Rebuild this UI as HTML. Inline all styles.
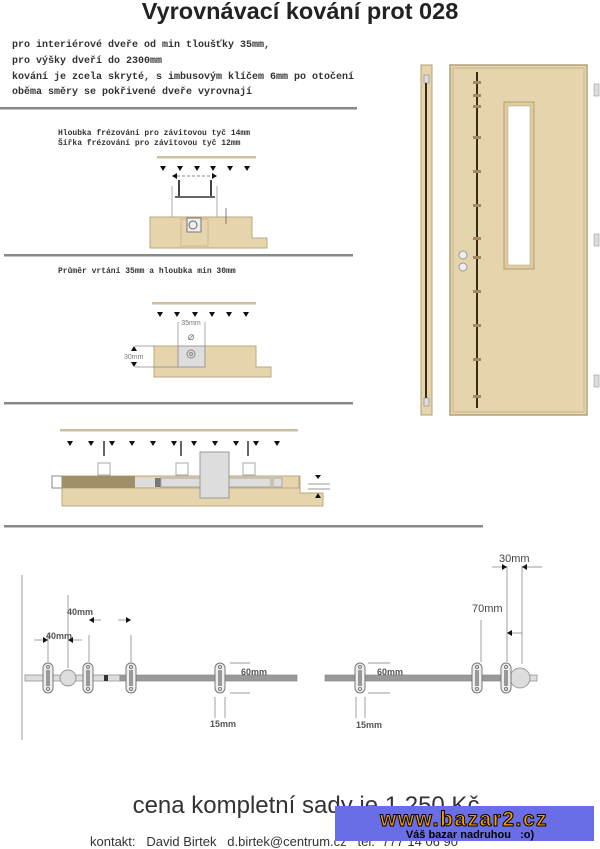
<!DOCTYPE html>
<html><head><meta charset="utf-8"><style>
html,body{margin:0;padding:0;background:#fff;}
svg{display:block;}
.m{font-family:"Liberation Mono",monospace;font-weight:bold;fill:#333;}
.s{font-family:"Liberation Sans",sans-serif;fill:#333;}
</style></head><body>
<svg width="600" height="849" viewBox="0 0 600 849" xmlns="http://www.w3.org/2000/svg">
<defs>
<path id="ar" d="M-3,0 L3,0 L0,5 Z" fill="#111"/>
<g id="pl"><rect x="-5" y="-15" width="10" height="30" rx="5" fill="#eee" stroke="#777" stroke-width="1"/><rect x="-2" y="-8" width="4" height="16" fill="#999"/><circle cx="0" cy="-11" r="1.5" fill="none" stroke="#777"/><circle cx="0" cy="11" r="1.5" fill="none" stroke="#777"/></g>
</defs>
<text x="300" y="19" text-anchor="middle" class="s" style="font-size:23.5px;font-weight:bold;fill:#222">Vyrovnávací kování prot 028</text>
<text class="m" style="font-size:10px"><tspan x="12" y="47">pro interiérové dveře od min tloušťky 35mm,</tspan><tspan x="12" y="63">pro výšky dveří do 2300mm</tspan><tspan x="12" y="79">kování je zcela skryté, s imbusovým klíčem 6mm po otočení</tspan><tspan x="12" y="94">oběma směry se pokřivené dveře vyrovnají</tspan></text>
<rect x="0" y="107" width="357" height="2.5" fill="#888"/>

<!-- section 2 -->
<text class="m" style="font-size:8px"><tspan x="58" y="135">Hloubka frézování pro závitovou tyč 14mm</tspan><tspan x="58" y="145">Šířka frézování pro závitovou tyč 12mm</tspan></text>
<rect x="157" y="156" width="99" height="2.5" fill="#c8c0a0"/>
<g><use href="#ar" x="163" y="166"/><use href="#ar" x="180" y="166"/><use href="#ar" x="197" y="166"/><use href="#ar" x="213" y="166"/><use href="#ar" x="230" y="166"/><use href="#ar" x="247" y="166"/></g>
<line x1="172" y1="176" x2="217" y2="176" stroke="#888" stroke-dasharray="3,2"/>
<path d="M172,176 l5,-3 v6z M217,176 l-5,-3 v6z" fill="#111"/>
<line x1="179" y1="180" x2="179" y2="197" stroke="#444" stroke-width="2"/><line x1="211" y1="180" x2="211" y2="197" stroke="#444" stroke-width="2"/>
<rect x="175" y="196" width="40" height="2" fill="#666"/>
<line x1="172" y1="186" x2="172" y2="217" stroke="#888" stroke-width="0.7"/><line x1="217" y1="186" x2="217" y2="217" stroke="#888" stroke-width="0.7"/>
<path d="M150,217 H252 V238 H267 V248 H150 Z" fill="#e6d5ac" stroke="#bba880"/>
<rect x="181" y="219" width="27" height="27" fill="none" stroke="#c9b88f"/>
<rect x="187" y="218" width="14" height="14" fill="#eee" stroke="#777"/><circle cx="193" cy="225" r="4" fill="none" stroke="#666"/>
<line x1="226" y1="208" x2="226" y2="224" stroke="#555" stroke-width="0.7"/>
<rect x="4" y="254" width="349" height="2.5" fill="#888"/>

<!-- section 3 -->
<text x="58" y="273" class="m" style="font-size:8px">Průměr vrtání 35mm a hloubka min 30mm</text>
<rect x="152" y="302" width="104" height="2.5" fill="#c8c0a0"/>
<g><use href="#ar" x="160" y="312"/><use href="#ar" x="177" y="312"/><use href="#ar" x="195" y="312"/><use href="#ar" x="212" y="312"/><use href="#ar" x="229" y="312"/><use href="#ar" x="246" y="312"/></g>
<path d="M154,346 H256 V367 H271 V377 H154 Z" fill="#e6d5ac" stroke="#bba880"/>
<rect x="178" y="346" width="27" height="21" fill="#ddd" stroke="#999"/>
<circle cx="191" cy="354" r="4" fill="none" stroke="#888"/><circle cx="191" cy="354" r="1.5" fill="none" stroke="#888"/>
<line x1="178" y1="322" x2="178" y2="346" stroke="#888" stroke-width="0.7"/><line x1="205" y1="322" x2="205" y2="346" stroke="#888" stroke-width="0.7"/>
<text x="191" y="325" text-anchor="middle" class="s" style="font-size:7px;fill:#777">35mm</text>
<text x="191" y="340" text-anchor="middle" class="s" style="font-size:11px;fill:#777">⌀</text>
<line x1="135" y1="346" x2="155" y2="346" stroke="#888" stroke-width="0.7"/><line x1="135" y1="367" x2="178" y2="367" stroke="#888" stroke-width="0.7"/>
<path d="M134,346 l-3,5 h6z M134,367 l-3,-5 h6z" fill="#111"/>
<text x="124" y="359" class="s" style="font-size:7px;fill:#777">30mm</text>
<rect x="4" y="402" width="349" height="2.5" fill="#888"/>

<!-- section 4 -->
<rect x="60" y="429" width="238" height="2.5" fill="#c8c0a0"/>
<g><use href="#ar" x="70" y="441"/><use href="#ar" x="91" y="441"/><use href="#ar" x="112" y="441"/><use href="#ar" x="132" y="441"/><use href="#ar" x="153" y="441"/><use href="#ar" x="174" y="441"/><use href="#ar" x="194" y="441"/><use href="#ar" x="215" y="441"/><use href="#ar" x="236" y="441"/><use href="#ar" x="256" y="441"/><use href="#ar" x="277" y="441"/></g>
<line x1="104" y1="441" x2="104" y2="456" stroke="#333" stroke-width="1.5"/><line x1="181" y1="441" x2="181" y2="456" stroke="#333" stroke-width="1.5"/><line x1="248" y1="441" x2="248" y2="456" stroke="#333" stroke-width="1.5"/>
<path d="M62,476 H300 V493 H323 V506 H62 Z" fill="#e6d5ac" stroke="#bba880"/>
<rect x="52" y="476" width="247" height="12" fill="#e6d5ac" stroke="#bba880"/>
<rect x="52" y="476" width="10" height="12" fill="#fff" stroke="#888"/>
<rect x="62" y="476" width="73" height="12" fill="#a0906a"/>
<rect x="135" y="478" width="20" height="9" fill="#ddd"/><rect x="155" y="478" width="6" height="9" fill="#777"/>
<rect x="161" y="478" width="110" height="9" fill="#ddd" stroke="#aaa"/>
<rect x="273" y="478" width="9" height="9" fill="#ddd" stroke="#aaa"/>
<rect x="200" y="452" width="29" height="46" fill="#ddd" stroke="#999"/>
<rect x="98" y="463" width="12" height="12" fill="#fff" stroke="#aaa"/><rect x="176" y="463" width="12" height="12" fill="#fff" stroke="#aaa"/><rect x="243" y="463" width="12" height="12" fill="#fff" stroke="#aaa"/>
<line x1="308" y1="484" x2="330" y2="484" stroke="#777" stroke-width="0.7"/><line x1="308" y1="489" x2="330" y2="489" stroke="#777" stroke-width="0.7"/>
<path d="M318,479 l-3,-4 h6z M318,493 l-3,5 h6z" fill="#111"/>
<rect x="4" y="525" width="479" height="2.5" fill="#888"/>

<!-- section 5 -->
<line x1="22" y1="575" x2="22" y2="740" stroke="#999"/>
<rect x="25" y="675" width="95" height="6" fill="#ddd" stroke="#888" stroke-width="0.7"/>
<rect x="120" y="675" width="177" height="6" fill="#999" stroke="#888" stroke-width="0.7"/>
<rect x="104" y="675" width="4" height="6" fill="#333"/>
<circle cx="68" cy="678" r="8" fill="#ddd" stroke="#999"/>
<use href="#pl" x="48" y="678"/><use href="#pl" x="88" y="678"/><use href="#pl" x="131" y="678"/><use href="#pl" x="220" y="678"/>
<rect x="325" y="675" width="175" height="6" fill="#999" stroke="#888" stroke-width="0.7"/>
<rect x="500" y="675" width="37" height="6" fill="#ddd" stroke="#888" stroke-width="0.7"/>
<circle cx="520" cy="678" r="10" fill="#ddd" stroke="#999"/>
<use href="#pl" x="360" y="678"/><use href="#pl" x="477" y="678"/><use href="#pl" x="506" y="678"/>
<g stroke="#777" stroke-width="0.7">
<line x1="48" y1="633" x2="48" y2="662"/><line x1="68" y1="595" x2="68" y2="668"/><line x1="89" y1="635" x2="89" y2="662"/><line x1="131" y1="635" x2="131" y2="662"/>
<line x1="34" y1="640" x2="48" y2="640"/><line x1="68" y1="640" x2="82" y2="640"/><line x1="89" y1="620" x2="101" y2="620"/><line x1="118" y1="620" x2="131" y2="620"/>
<line x1="230" y1="663" x2="250" y2="663"/><line x1="230" y1="693" x2="250" y2="693"/><line x1="215" y1="697" x2="215" y2="718"/><line x1="225" y1="697" x2="225" y2="718"/>
<line x1="368" y1="663" x2="390" y2="663"/><line x1="368" y1="693" x2="390" y2="693"/><line x1="356" y1="697" x2="356" y2="718"/><line x1="365" y1="697" x2="365" y2="718"/>
<line x1="481" y1="620" x2="481" y2="662"/><line x1="507" y1="566" x2="507" y2="662"/><line x1="522" y1="566" x2="522" y2="664"/>
<line x1="492" y1="567" x2="507" y2="567"/><line x1="522" y1="567" x2="542" y2="567"/><line x1="507" y1="633" x2="522" y2="633"/>
</g>
<path d="M48,640 l-5,-3 v6z M68,640 l5,-3 v6z M89,620 l5,-3 v6z M131,620 l-5,-3 v6z M507,567 l-5,-3 v6z M522,567 l5,-3 v6z M507,633 l5,-3 v6z" fill="#111"/>
<g class="s" style="font-size:9px;font-weight:bold;fill:#555">
<text x="67" y="615">40mm</text><text x="46" y="639">40mm</text><text x="241" y="675">60mm</text><text x="377" y="675">60mm</text><text x="210" y="727">15mm</text><text x="356" y="728">15mm</text>
</g>
<text x="499" y="562" class="s" style="font-size:11px;fill:#444">30mm</text>
<text x="472" y="612" class="s" style="font-size:11px;fill:#444">70mm</text>

<!-- door side -->
<rect x="421" y="65" width="11" height="350" fill="#e6d5ac" stroke="#b0a07a"/>
<line x1="426" y1="80" x2="426" y2="402" stroke="#3a2a1a" stroke-width="2"/>
<rect x="424" y="75" width="5" height="8" fill="#ddd" stroke="#777" stroke-width="0.5"/>
<rect x="424" y="398" width="5" height="8" fill="#ddd" stroke="#777" stroke-width="0.5"/>
<!-- door front -->
<rect x="450" y="65" width="137" height="350" fill="#e6d5ac" stroke="#b0a07a" stroke-width="1.5"/>
<rect x="453" y="68" width="131" height="344" fill="none" stroke="#c8b88e" stroke-width="1"/>
<rect x="504" y="102" width="30" height="167" fill="#e0cc9c" stroke="#b0a07a"/>
<rect x="508" y="106" width="22" height="159" fill="#fff" stroke="#b0a07a" stroke-width="0.5"/>
<line x1="477" y1="72" x2="477" y2="408" stroke="#3a2a1a" stroke-width="2"/>
<g fill="#a08860"><rect x="473" y="81" width="8" height="3"/><rect x="473" y="94" width="8" height="3"/><rect x="473" y="105" width="8" height="3"/><rect x="473" y="136" width="8" height="3"/><rect x="473" y="170" width="8" height="3"/><rect x="473" y="204" width="8" height="3"/><rect x="473" y="237" width="8" height="3"/><rect x="473" y="256" width="8" height="3"/><rect x="473" y="290" width="8" height="3"/><rect x="473" y="324" width="8" height="3"/><rect x="473" y="358" width="8" height="3"/><rect x="473" y="395" width="8" height="3"/></g>
<circle cx="463" cy="255" r="4" fill="#eee" stroke="#999"/><circle cx="463" cy="267" r="4" fill="#eee" stroke="#999"/>
<g fill="#ddd" stroke="#888" stroke-width="0.5"><rect x="594" y="84" width="5" height="12"/><rect x="594" y="234" width="5" height="12"/><rect x="594" y="375" width="5" height="12"/></g>

<!-- bottom -->
<text x="306" y="813" text-anchor="middle" class="s" style="font-size:24px">cena kompletní sady je 1 250 Kč</text>
<text x="90" y="846" class="s" style="font-size:13px;white-space:pre">kontakt:   David Birtek   d.birtek@centrum.cz   tel.  777 14 06 90</text>
<rect x="335" y="806" width="259" height="35" fill="#6a6ee6"/>
<text x="464" y="826" text-anchor="middle" style="font-family:'Liberation Sans',sans-serif;font-size:21px;font-weight:bold;letter-spacing:1.5px;fill:#f59a00;stroke:#000;stroke-width:1">www.bazar2.cz</text>
<text x="470" y="838" text-anchor="middle" style="font-family:'Liberation Sans',sans-serif;font-size:11px;font-weight:bold;fill:#000;white-space:pre">Váš bazar nadruhou   :o)</text>
</svg>
</body></html>
